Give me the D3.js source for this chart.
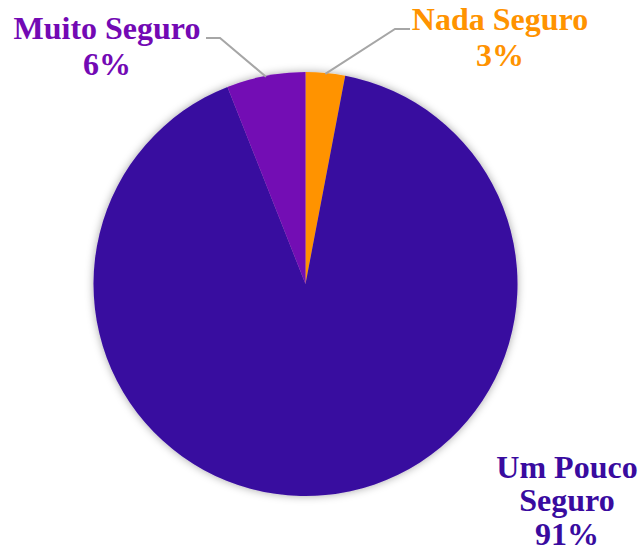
<!DOCTYPE html>
<html><head><meta charset="utf-8">
<script src="https://cdn.jsdelivr.net/npm/d3@7"></script>
<style>body{margin:0;background:#fff}svg{display:block}</style>
</head><body>
<script>
const categories = ["Nada Seguro", "Um Pouco Seguro", "Muito Seguro"];
const values = [3, 91, 6];
const labels = ["3%", "91%", "6%"];
const colors = ["#FF9300", "#390B9F", "#7309B4"];

const W = 641, H = 551, cx = 305.5, cy = 284, R = 212;
const svg = d3.select("body").append("svg").attr("width", W).attr("height", H);
const defs = svg.append("defs");
const f = defs.append("filter").attr("id", "sh").attr("x", "-20%").attr("y", "-20%").attr("width", "140%").attr("height", "140%");
f.append("feDropShadow").attr("dx", 0).attr("dy", 0).attr("stdDeviation", 4).attr("flood-color", "#000").attr("flood-opacity", 0.35);

const pie = d3.pie().sort(null).value(d => d)(values);
const arc = d3.arc().innerRadius(0).outerRadius(R);
const g = svg.append("g").attr("transform", `translate(${cx},${cy})`);
g.append("g").attr("filter", "url(#sh)").selectAll("path").data(pie).join("path")
  .attr("d", arc).attr("fill", (d, i) => colors[i]);

// leader lines
function leader(i, pts) {
  const c = pie[i];
  const a = (c.startAngle + c.endAngle) / 2;
  const p0 = [cx + Math.sin(a) * (R - 1), cy - Math.cos(a) * (R - 1)];
  svg.append("path").attr("d", d3.line()([p0, ...pts]))
    .attr("fill", "none").attr("stroke", "#A6A6A6").attr("stroke-width", 2);
}
leader(0, [[395, 29], [410, 29]]);
leader(2, [[220, 38], [206, 38]]);

const font = "'Liberation Serif', serif";
function lbl(lines, x, ys, col) {
  const t = svg.append("text").attr("text-anchor", "middle").attr("fill", col)
    .style("font-family", font).style("font-weight", "bold").style("font-size", "32px");
  lines.forEach((s, k) => t.append("tspan").attr("x", x).attr("y", ys[k]).text(s));
}
lbl(["Nada Seguro", labels[0]], 500, [30, 66], colors[0]);
lbl(["Muito Seguro", labels[2]], 107, [39, 75], colors[2]);
lbl(["Um Pouco", "Seguro", labels[1]], 567, [478, 511, 545], colors[1]);
</script>
</body></html>
